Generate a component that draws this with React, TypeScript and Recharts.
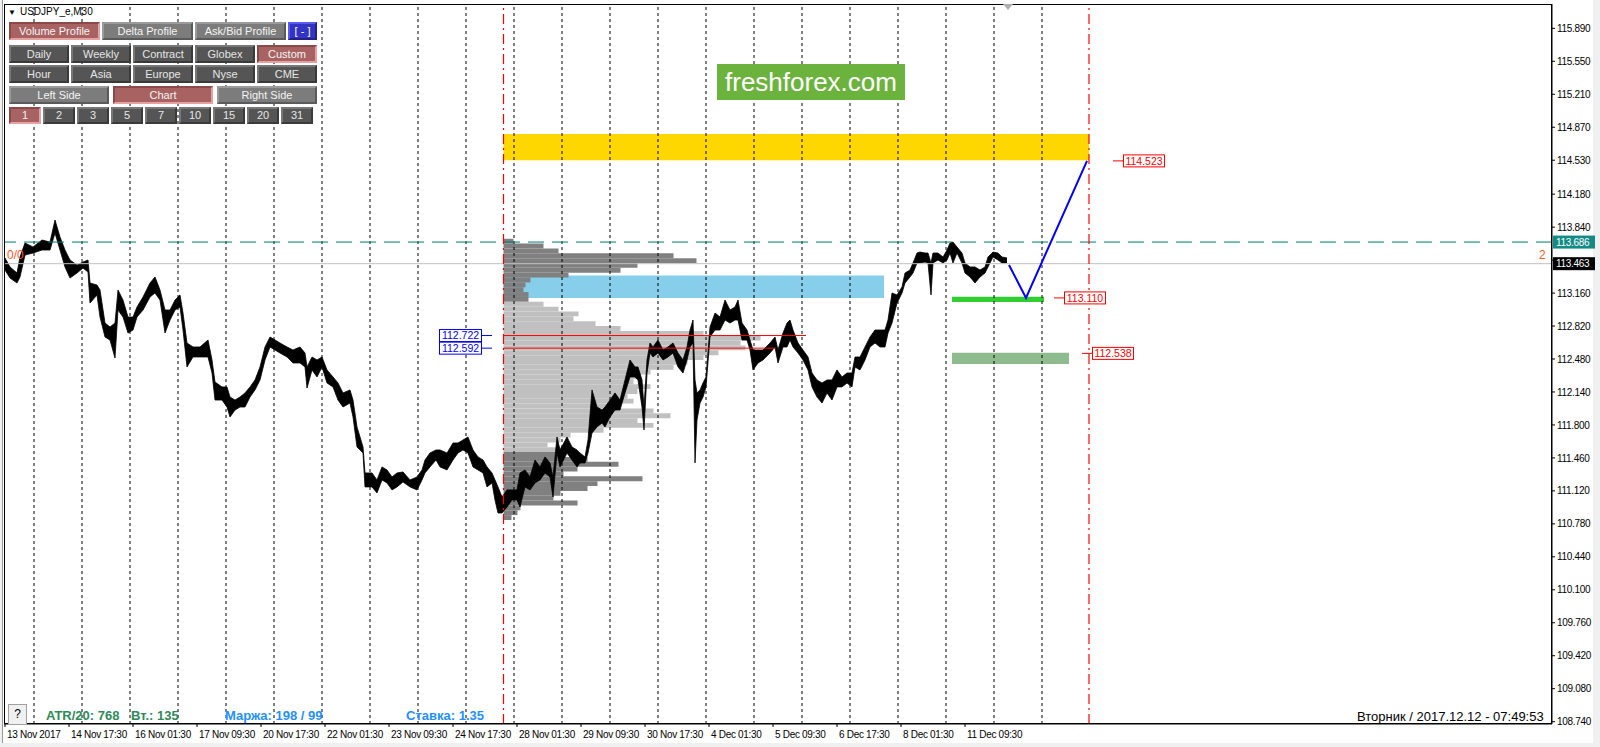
import React from "react";
import {
  ComposedChart, Area, Line, XAxis, YAxis, ReferenceLine, ReferenceArea, ReferenceDot,
} from "recharts";

// M30 bars, one bar index per bar: [bar, low, high]
const priceBars: [number, number, number][] = [
  [0,113.398,113.522],[5,113.315,113.429],[12,113.264,113.367],[15,113.326,113.532],[20,113.552,113.676],
  [28,113.573,113.635],[37,113.604,113.707],[45,113.604,113.686],[50,113.779,113.913],[55,113.604,113.738],
  [60,113.429,113.604],[65,113.315,113.501],[72,113.367,113.449],[78,113.418,113.480],[83,113.377,113.501],
  [85,113.057,113.264],[92,113.140,113.243],[95,112.913,113.192],[100,112.707,112.851],[105,112.676,112.810],
  [110,112.490,112.851],[113,112.985,113.192],[118,112.913,113.088],[123,112.748,112.913],[128,112.779,112.913],
  [132,112.913,113.016],[138,112.985,113.119],[145,113.119,113.264],[150,113.161,113.326],[155,113.088,113.192],
  [160,112.748,112.985],[165,112.882,112.985],[170,112.985,113.088],[175,113.016,113.140],[178,112.779,112.954],
  [182,112.398,112.645],[188,112.501,112.604],[195,112.501,112.604],[203,112.501,112.676],[207,112.336,112.470],
  [210,112.057,112.243],[217,112.057,112.192],[222,111.985,112.192],[225,111.882,112.088],[230,111.954,112.057],
  [235,111.985,112.088],[240,111.985,112.130],[245,112.088,112.192],[250,112.161,112.264],[255,112.264,112.398],
  [260,112.470,112.604],[265,112.604,112.707],[270,112.573,112.676],[275,112.542,112.645],[282,112.501,112.604],
  [288,112.439,112.573],[295,112.439,112.604],[300,112.398,112.542],[302,112.181,112.398],[307,112.367,112.501],
  [312,112.295,112.470],[317,112.398,112.501],[322,112.233,112.367],[328,112.192,112.295],[333,112.057,112.233],
  [338,111.985,112.130],[345,112.026,112.161],[348,111.882,112.057],[352,111.573,111.779],[358,111.511,111.573],
  [360,111.161,111.305],[367,111.161,111.305],[372,111.099,111.233],[377,111.233,111.367],[382,111.202,111.336],
  [387,111.130,111.264],[392,111.161,111.305],[398,111.212,111.315],[405,111.161,111.233],[412,111.130,111.264],
  [417,111.233,111.336],[420,111.305,111.439],[425,111.367,111.511],[431,111.439,111.542],[435,111.367,111.542],
  [442,111.336,111.511],[448,111.439,111.614],[453,111.511,111.614],[458,111.542,111.645],[463,111.511,111.676],
  [468,111.367,111.542],[473,111.336,111.470],[478,111.305,111.439],[482,111.161,111.367],[487,111.202,111.305],
  [490,111.026,111.233],[493,110.892,111.161],[497,110.892,111.057],[502,110.954,111.130],[507,111.026,111.130],
  [512,111.026,111.130],[515,110.954,111.305],[520,111.161,111.336],[525,111.130,111.264],[530,111.202,111.439],
  [535,111.233,111.367],[540,111.305,111.470],[545,111.264,111.408],[548,111.057,111.264],[552,111.511,111.676],
  [555,111.367,111.542],[562,111.511,111.676],[567,111.439,111.573],[572,111.367,111.542],[575,111.408,111.511],
  [580,111.408,111.470],[583,111.511,111.645],[587,111.717,112.161],[592,111.779,111.985],[597,111.820,111.954],
  [600,111.779,111.985],[605,111.882,112.057],[610,111.954,112.130],[615,111.954,112.057],[620,112.130,112.264],
  [625,112.295,112.470],[630,112.295,112.398],[633,112.264,112.398],[637,111.985,112.264],[639,111.748,111.985],
  [642,112.336,112.470],[645,112.542,112.645],[648,112.501,112.604],[653,112.542,112.676],[658,112.470,112.573],
  [663,112.501,112.604],[668,112.542,112.645],[673,112.398,112.542],[678,112.336,112.470],[682,112.470,112.604],
  [685,112.604,112.779],[688,112.645,112.882],[690,111.408,112.264],[692,111.851,112.130],[695,112.026,112.161],
  [698,112.088,112.233],[701,112.192,112.295],[705,112.707,112.810],[710,112.779,112.954],[715,112.779,112.913],
  [720,112.882,113.088],[725,112.851,112.985],[730,112.882,113.016],[733,112.882,113.088],[737,112.676,112.851],
  [742,112.676,112.779],[745,112.573,112.676],[748,112.367,112.573],[753,112.439,112.573],[758,112.470,112.573],
  [765,112.542,112.645],[770,112.604,112.707],[773,112.439,112.573],[778,112.604,112.748],[782,112.604,112.851],
  [785,112.676,112.882],[788,112.604,112.779],[793,112.542,112.645],[798,112.470,112.573],[803,112.367,112.501],
  [807,112.192,112.336],[812,112.088,112.264],[817,112.026,112.233],[822,112.130,112.264],[827,112.057,112.264],
  [832,112.192,112.367],[837,112.192,112.295],[842,112.233,112.336],[847,112.192,112.336],[850,112.398,112.501],
  [855,112.367,112.501],[860,112.470,112.604],[865,112.604,112.707],[870,112.645,112.779],[875,112.604,112.779],
  [880,112.604,112.779],[883,112.748,112.882],[887,112.851,113.161],[892,113.057,113.140],[897,113.161,113.223],
  [900,113.264,113.367],[905,113.326,113.398],[908,113.367,113.470],[912,113.470,113.573],[915,113.470,113.583],
  [920,113.480,113.573],[923,113.470,113.573],[926,113.140,113.470],[928,113.470,113.573],[933,113.501,113.573],
  [938,113.470,113.532],[942,113.501,113.604],[945,113.573,113.676],[948,113.470,113.686],[952,113.573,113.635],
  [957,113.470,113.573],[960,113.367,113.470],[965,113.326,113.429],[970,113.264,113.429],[975,113.326,113.398],
  [980,113.367,113.429],[983,113.429,113.532],[988,113.532,113.583],[993,113.501,113.573],[997,113.470,113.532],
  [1002,113.470,113.522],
];

// blue forecast path
const forecastBars = [1004, 1021, 1082];
const forecastPrices = [113.45, 113.11, 114.523];

// volume profile (rows from top, 0.05 each)
const profileTop = 113.72;
const profileStep = 0.05;
const profileVolumes = [
  10, 40, 55, 170, 193, 134, 117, 65, 27, 22, 20, 25, 25, 40, 55, 75, 70, 92, 117, 200,
  257, 237, 242, 215, 200, 184, 170, 147, 137, 130, 147, 134, 124, 130, 117, 150, 167, 134, 150, 100,
  67, 57, 44, 64, 57, 84, 115, 74, 60, 139, 94, 84, 57, 50, 74, 17, 14, 8,
];
const valueArea = [111.52, 113.07];
const profileStart = 498.5;
const rangeEnd = 1084;

const xTicks = [0, 64, 128, 192, 256, 320, 384, 448, 512, 576, 640, 704, 768, 832, 896, 960];
const xLabels = [
  "13 Nov 2017", "14 Nov 17:30", "16 Nov 01:30", "17 Nov 09:30", "20 Nov 17:30", "22 Nov 01:30",
  "23 Nov 09:30", "24 Nov 17:30", "28 Nov 01:30", "29 Nov 09:30", "30 Nov 17:30", "4 Dec 01:30",
  "5 Dec 09:30", "6 Dec 17:30", "8 Dec 01:30", "11 Dec 09:30",
];
const daySeparators = [29, 77, 125, 173, 221, 269, 317, 365, 413, 461, 509, 557, 605, 653, 701, 749, 797, 845, 893, 941, 989, 1037];
const yTicks = [
  115.89, 115.55, 115.21, 114.87, 114.53, 114.18, 113.84, 113.5, 113.16, 112.82, 112.48,
  112.14, 111.8, 111.46, 111.12, 110.78, 110.44, 110.1, 109.76, 109.42, 109.08, 108.74,
];
// tick whose label sits under the bid price tag
const hiddenTick = 113.5;

const X_MIN = -1;
const X_MAX = 1547;
const Y_MIN = 108.716;
const Y_MAX = 116.141;

const FONT = "'Liberation Sans', Arial, sans-serif";

const priceData = priceBars.map(([bar, lo, hi]) => ({ bar, range: [lo, hi] }));
const forecast = forecastBars.map((bar, i) => ({ bar, price: forecastPrices[i] }));
const profileRows = profileVolumes.map((v, i) => {
  const top = profileTop - i * profileStep;
  const bottom = top - profileStep;
  const inVA = bottom >= valueArea[0] - 0.001 && top <= valueArea[1] + 0.001;
  return { top, bottom, vol: v, color: inVA ? "#c0c0c0" : "#808080" };
});

function XTick(props: any) {
  const { x, y, payload } = props;
  const idx = xTicks.indexOf(payload.value);
  return (
    <text x={x + 2} y={y} dy="0.71em" fontSize={10} letterSpacing={-0.3} fontFamily={FONT} fill="#000" textAnchor="start">
      {xLabels[idx]}
    </text>
  );
}

function YTick(props: any) {
  const { x, y, payload } = props;
  if (payload.value === hiddenTick) return <g />;
  return (
    <text x={x} y={y} dy="0.36em" fontSize={10} letterSpacing={-0.3} fontFamily={FONT} fill="#000" textAnchor="start">
      {payload.value.toFixed(3)}
    </text>
  );
}

const axisTag = (bg: string, text: string) => (p: any) => (
  <g>
    <rect x={p.cx + 1} y={p.cy - 6.5} width={42} height={13} fill={bg} />
    <text x={p.cx + 4} y={p.cy} dy="0.36em" fontSize={10} letterSpacing={-0.3} fontFamily={FONT} fill="#fff">{text}</text>
  </g>
);

const redTag = (text: string) => (p: any) => (
  <g>
    <line x1={p.cx} y1={p.cy} x2={p.cx + 10} y2={p.cy} stroke="#ff0000" />
    <rect x={p.cx + 10.5} y={p.cy - 6} width={41} height={12} fill="#fff" stroke="#ff0000" />
    <text x={p.cx + 31} y={p.cy} dy="0.36em" fontSize={10.5} fontFamily={FONT} fill="#ff0000" textAnchor="middle">{text}</text>
  </g>
);

const blueTag = (text: string) => (p: any) => (
  <g>
    <line x1={p.cx - 10} y1={p.cy} x2={p.cx} y2={p.cy} stroke="#0000ff" />
    <rect x={p.cx - 52.5} y={p.cy - 6} width={42} height={12} fill="#fff" stroke="#0000ff" />
    <text x={p.cx - 31.5} y={p.cy} dy="0.36em" fontSize={10.5} fontFamily={FONT} fill="#0000ff" textAnchor="middle">{text}</text>
  </g>
);

const textMark = (text: string, color: string) => (p: any) => (
  <text x={p.cx} y={p.cy} dy="0.36em" fontSize={12} fontFamily={FONT} fill={color}>{text}</text>
);

type BtnKind = "red" | "light" | "dark" | "blue";
const btnColors: Record<BtnKind, { bg: string; hi: string; lo: string; fg: string }> = {
  red: { bg: "#a86262", hi: "#8a4a4a", lo: "#e6a2a2", fg: "#f4f4f4" },
  light: { bg: "#7c7c7c", hi: "#9a9a9a", lo: "#5a5a5a", fg: "#f4f4f4" },
  dark: { bg: "#555555", hi: "#777777", lo: "#3a3a3a", fg: "#e6e6e6" },
  blue: { bg: "#3434c4", hi: "#5a5aee", lo: "#22228a", fg: "#ffffff" },
};

function Btn({ x, y, w, h, label, kind }: { x: number; y: number; w: number; h: number; label: string; kind: BtnKind }) {
  const c = btnColors[kind];
  return (
    <div
      style={{
        position: "absolute", left: x, top: y, width: w, height: h, boxSizing: "border-box",
        background: c.bg, borderTop: `2px solid ${c.hi}`, borderLeft: `2px solid ${c.hi}`,
        borderRight: `2px solid ${c.lo}`, borderBottom: `2px solid ${c.lo}`,
        color: c.fg, fontFamily: FONT, fontSize: 11, lineHeight: `${h - 4}px`, textAlign: "center",
        whiteSpace: "nowrap",
      }}
    >
      {label}
    </div>
  );
}

const row2 = ["Daily", "Weekly", "Contract", "Globex", "Custom"];
const row3 = ["Hour", "Asia", "Europe", "Nyse", "CME"];
const row5 = ["1", "2", "3", "5", "7", "10", "15", "20", "31"];

export default function App() {
  return (
    <div style={{ position: "absolute", left: 0, top: 0, width: 1600, height: 747, background: "#f0f0f0", overflow: "hidden" }}>
      <div style={{ position: "absolute", left: 2, top: 0, width: 1590, height: 743, background: "#fff", borderLeft: "1px solid #9a9a9a" }} />
      <div style={{ position: "absolute", left: 0, top: 0 }}>
        <ComposedChart width={1600} height={747} data={priceData} margin={{ top: 4, right: 0, bottom: 0, left: 4 }}>
          <XAxis
            type="number" dataKey="bar" domain={[X_MIN, X_MAX]} ticks={xTicks} interval={0} allowDataOverflow
            height={23} tickSize={3} tickMargin={4} tick={<XTick />} axisLine={{ stroke: "#000" }} tickLine={{ stroke: "#000" }}
          />
          <YAxis
            orientation="right" type="number" domain={[Y_MIN, Y_MAX]} ticks={yTicks} interval={0} allowDataOverflow
            width={48} tickSize={3} tickMargin={2} tick={<YTick />} axisLine={{ stroke: "#000" }} tickLine={{ stroke: "#000" }}
          />
          {daySeparators.map((b) => (
            <ReferenceLine key={"s" + b} x={b} stroke="#000" strokeDasharray="3 3" />
          ))}
          <ReferenceArea x1={profileStart} x2={rangeEnd} y1={114.53} y2={114.8} fill="#ffd700" fillOpacity={1} stroke="none" />
          <ReferenceArea x1={profileStart} x2={879} y1={113.11} y2={113.34} fill="#87ceeb" fillOpacity={1} stroke="none" />
          <ReferenceArea x1={947} x2={1039} y1={113.068} y2={113.123} fill="#32cd32" fillOpacity={1} stroke="none" />
          <ReferenceArea x1={947} x2={1064} y1={112.428} y2={112.545} fill="#8fbc8f" fillOpacity={1} stroke="none" />
          {profileRows.map((r, i) => (
            <ReferenceArea
              key={"p" + i} x1={profileStart} x2={profileStart + r.vol} y1={r.bottom} y2={r.top}
              fill={r.color} fillOpacity={1} stroke="none"
            />
          ))}
          <ReferenceLine y={113.463} stroke="#c0c0c0" />
          <ReferenceLine y={113.686} stroke="#007a70" strokeDasharray="16 8" />
          <Area
            type="linear" dataKey="range" stroke="#000" strokeWidth={0.8} fill="#000" fillOpacity={1}
            dot={false} activeDot={false} isAnimationActive={false}
          />
          <ReferenceLine segment={[{ x: profileStart, y: 112.722 }, { x: 801, y: 112.722 }]} stroke="#ff0000" />
          <ReferenceLine segment={[{ x: profileStart, y: 112.592 }, { x: 770, y: 112.592 }]} stroke="#ff0000" />
          <Line
            data={forecast} type="linear" dataKey="price" stroke="#0000ff" strokeWidth={2}
            dot={false} activeDot={false} isAnimationActive={false}
          />
          <ReferenceLine x={profileStart} stroke="#ff0000" strokeWidth={1.2} strokeDasharray="10 4 2 4" />
          <ReferenceLine x={rangeEnd} stroke="#ff0000" strokeWidth={1.2} strokeDasharray="10 4 2 4" />
          <ReferenceDot x={487} y={112.722} r={0} ifOverflow="visible" shape={blueTag("112.722")} />
          <ReferenceDot x={487} y={112.592} r={0} ifOverflow="visible" shape={blueTag("112.592")} />
          <ReferenceDot x={1108} y={114.523} r={0} ifOverflow="visible" shape={redTag("114.523")} />
          <ReferenceDot x={1049} y={113.11} r={0} ifOverflow="visible" shape={redTag("113.110")} />
          <ReferenceDot x={1077} y={112.538} r={0} ifOverflow="visible" shape={redTag("112.538")} />
          <ReferenceDot x={2} y={113.56} r={0} ifOverflow="visible" shape={textMark("0/0", "#ff5a1f")} />
          <ReferenceDot x={1534} y={113.56} r={0} ifOverflow="visible" shape={textMark("2", "#ff5a1f")} />
          <ReferenceDot x={X_MAX} y={113.686} r={0} ifOverflow="visible" shape={axisTag("#138a84", "113.686")} />
          <ReferenceDot x={X_MAX} y={113.463} r={0} ifOverflow="visible" shape={axisTag("#000", "113.463")} />
        </ComposedChart>
      </div>

      {/* plot frame */}
      <div style={{ position: "absolute", left: 4, top: 4, width: 1548, height: 720, boxSizing: "border-box", border: "1px solid #000", pointerEvents: "none" }} />
      <div style={{ position: "absolute", left: 1003, top: 4, width: 0, height: 0, borderLeft: "5px solid transparent", borderRight: "5px solid transparent", borderTop: "6px solid #b0b0b0" }} />

      {/* title */}
      <div style={{ position: "absolute", left: 8, top: 6, fontFamily: FONT, fontSize: 10, color: "#000", whiteSpace: "nowrap" }}>
        <span style={{ fontSize: 8, marginRight: 4 }}>▼</span>USDJPY_e,M30
      </div>

      {/* control panel */}
      <Btn x={9} y={22} w={91} h={18} label="Volume Profile" kind="red" />
      <Btn x={102} y={22} w={91} h={18} label="Delta Profile" kind="light" />
      <Btn x={195} y={22} w={91} h={18} label="Ask/Bid Profile" kind="light" />
      <Btn x={288} y={22} w={29} h={18} label="[ - ]" kind="blue" />
      {row2.map((l, i) => (
        <Btn key={l} x={9 + i * 62} y={45} w={60} h={18} label={l} kind={l === "Custom" ? "red" : "dark"} />
      ))}
      {row3.map((l, i) => (
        <Btn key={l} x={9 + i * 62} y={65} w={60} h={18} label={l} kind="dark" />
      ))}
      <Btn x={9} y={86} w={100} h={18} label="Left Side" kind="light" />
      <Btn x={113} y={86} w={100} h={18} label="Chart" kind="red" />
      <Btn x={217} y={86} w={100} h={18} label="Right Side" kind="light" />
      {row5.map((l, i) => (
        <Btn key={l} x={9 + i * 34} y={107} w={32} h={17} label={l} kind={l === "1" ? "red" : "dark"} />
      ))}

      {/* logo */}
      <div style={{ position: "absolute", left: 717, top: 64, width: 188, height: 36, background: "#6cb33e", color: "#fff", fontFamily: FONT, fontSize: 26, lineHeight: "36px", textAlign: "center" }}>
        freshforex.com
      </div>

      {/* status line */}
      <div style={{ position: "absolute", left: 8, top: 704, width: 19, height: 21, boxSizing: "border-box", background: "#f0f0f0", border: "1px solid #a0a0a0", fontFamily: FONT, fontSize: 12, lineHeight: "19px", textAlign: "center" }}>?</div>
      <div style={{ position: "absolute", left: 46, top: 708, fontFamily: FONT, fontSize: 13, fontWeight: "bold", color: "#2e8b57", whiteSpace: "nowrap" }}>ATR/20: 768</div>
      <div style={{ position: "absolute", left: 131, top: 708, fontFamily: FONT, fontSize: 13, fontWeight: "bold", color: "#2e8b57", whiteSpace: "nowrap" }}>Вт.: 135</div>
      <div style={{ position: "absolute", left: 225, top: 708, fontFamily: FONT, fontSize: 13, fontWeight: "bold", color: "#1e90ff", whiteSpace: "nowrap" }}>Маржа: 198 / 99</div>
      <div style={{ position: "absolute", left: 406, top: 708, fontFamily: FONT, fontSize: 13, fontWeight: "bold", color: "#1e90ff", whiteSpace: "nowrap" }}>Ставка: 1.35</div>
      <div style={{ position: "absolute", left: 1357, top: 709, fontFamily: FONT, fontSize: 13, color: "#000", whiteSpace: "nowrap" }}>Вторник / 2017.12.12 - 07:49:53</div>
    </div>
  );
}
